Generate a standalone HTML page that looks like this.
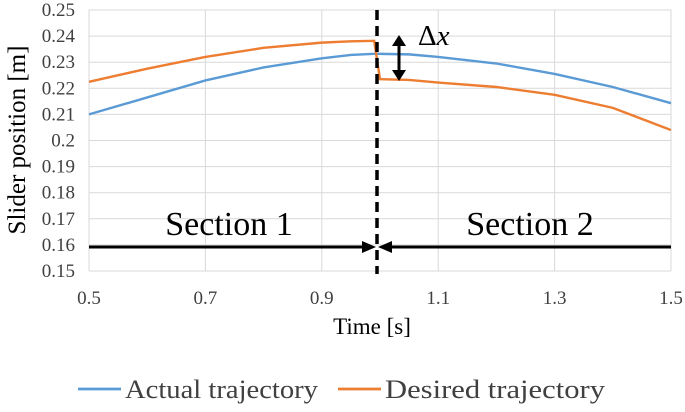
<!DOCTYPE html>
<html><head><meta charset="utf-8"><style>
body{margin:0;background:#fff}
svg{display:block;font-family:"Liberation Serif",serif}
</style></head><body>
<svg id="c" width="685" height="412"></svg>
<script>
const timeVals=[0.5,0.6,0.7,0.8,0.9,0.95,0.99,1.0,1.05,1.1,1.2,1.3,1.4,1.5];
const actualVals=[0.210,0.2165,0.223,0.228,0.2315,0.2328,0.2332,0.2332,0.2330,0.2320,0.2295,0.2255,0.2205,0.2143];
const desiredVals=[0.2225,0.2275,0.232,0.2355,0.2375,0.238,0.2382,0.2235,0.2232,0.2222,0.2205,0.2175,0.2125,0.204];
const yTicks=[0.15,0.16,0.17,0.18,0.19,0.2,0.21,0.22,0.23,0.24,0.25];
const xTicks=[0.5,0.7,0.9,1.1,1.3,1.5];
const L=89,R=671,T=10,B=271;
const X=v=>L+(v-0.5)/1.0*(R-L);
const Y=v=>B-(v-0.15)/0.1*(B-T);
const s=document.getElementById('c');const NS='http://www.w3.org/2000/svg';
function mk(t,a,p){const e=document.createElementNS(NS,t);for(const k in a)e.setAttribute(k,a[k]);(p||s).appendChild(e);return e;}
yTicks.forEach(v=>{
const g=mk('line',{x1:L,x2:R,y1:Y(v),y2:Y(v),stroke:'#d9d9d9','stroke-width':1});


const t=mk('text',{x:L-14,y:Y(v)+6,'text-anchor':'end','font-size':19,fill:'#404040'});t.textContent=String(v);


});
xTicks.forEach(v=>{
const g=mk('line',{x1:X(v),x2:X(v),y1:T,y2:B,stroke:'#d9d9d9','stroke-width':1});


const t=mk('text',{x:X(v),y:B+33,'text-anchor':'middle','font-size':19,fill:'#404040'});t.textContent=String(v);


});
function line(vals,col,name){const d=timeVals.map((t,i)=>(i?'L':'M')+X(t)+','+Y(vals[i])).join(' ');
const p=mk('path',{d:d,fill:'none',stroke:col,'stroke-width':2.4});

}
line(actualVals,'#5b9bd5','actual-trajectory-line');
line(desiredVals,'#ed7d31','desired-trajectory-line');
</script>
<script>
(function(){
const s=document.getElementById('c');
s.insertAdjacentHTML('beforeend',`
<line x1="377" y1="10" x2="377" y2="274" stroke="#000" stroke-width="3.5" stroke-dasharray="10,6"/>
<g><line x1="89" y1="247" x2="366" y2="247" stroke="#000" stroke-width="3"/><polygon points="376,247 362,241 362,253" fill="#000"/></g>
<g><line x1="388" y1="247" x2="671" y2="247" stroke="#000" stroke-width="3"/><polygon points="378,247 392,241 392,253" fill="#000"/></g>
<text x="229" y="235" text-anchor="middle" font-size="34" fill="#000">Section 1</text>
<text x="530" y="235" text-anchor="middle" font-size="34" fill="#000">Section 2</text>
<g><line x1="399" y1="44" x2="399" y2="72" stroke="#000" stroke-width="3"/><polygon points="399,35 392,46 406,46" fill="#000"/><polygon points="399,81 392,70 406,70" fill="#000"/></g>
<text x="418" y="45" font-size="29" fill="#000">Δ<tspan font-style="italic">x</tspan></text>
<text transform="translate(25,140) rotate(-90)" text-anchor="middle" font-size="25" fill="#000">Slider position [m]</text>
<text x="372" y="334" text-anchor="middle" font-size="23" fill="#000">Time [s]</text>
<g>
<line x1="78" y1="389" x2="121" y2="389" stroke="#5b9bd5" stroke-width="2.8"/>
<text x="125" y="398" font-size="26" fill="#404040" textLength="193" lengthAdjust="spacingAndGlyphs">Actual trajectory</text>
<line x1="338" y1="389" x2="381" y2="389" stroke="#ed7d31" stroke-width="2.8"/>
<text x="385" y="398" font-size="26" fill="#404040" textLength="220" lengthAdjust="spacingAndGlyphs">Desired trajectory</text>
</g>`);
})();
</script>
</body></html>
